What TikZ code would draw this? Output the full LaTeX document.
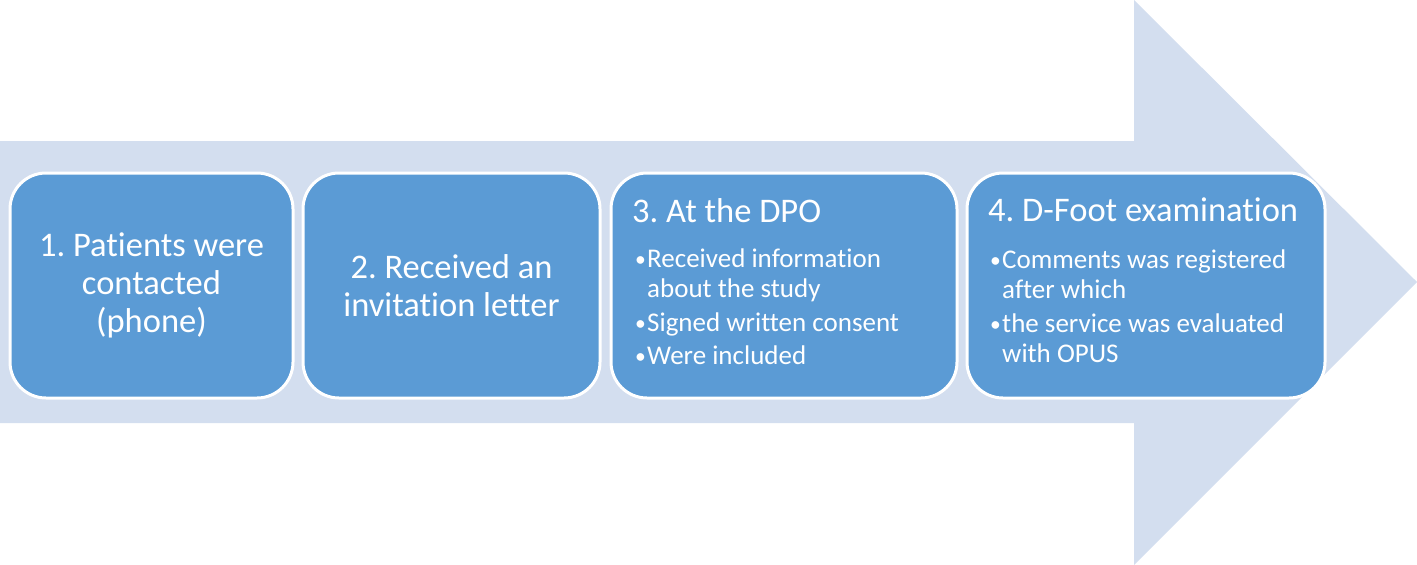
\documentclass[tikz,border=0pt]{standalone}
\usepackage{fontspec}
\setmainfont[Ligatures={NoCommon}]{Carlito}
\definecolor{arrowfill}{HTML}{D3DEEF}
\definecolor{boxfill}{HTML}{5B9BD5}
\newcommand{\bul}{\makebox[12pt][l]{\raisebox{1pt}{\scalebox{0.8}{•}}}}
\newcommand{\ind}{\hspace*{12pt}}
\frenchspacing
\begin{document}
\begin{tikzpicture}[x=1pt,y=-1pt,
  stepbox/.style={draw=white, line width=3pt, fill=boxfill, rounded corners=36pt},
  bigtext/.style={text=white, font=\fontsize{34.5}{38}\selectfont, align=center},
  listtext/.style={text=white, font=\fontsize{27}{30}\selectfont, align=left, inner sep=0pt, anchor=north west},
  titletext/.style={text=white, font=\fontsize{34.5}{38}\selectfont, inner sep=0pt, anchor=north west}]
\useasboundingbox (0,0) rectangle (1417,565);
\fill[arrowfill] (0,141) -- (1134,141) -- (1134,0) -- (1417,282) -- (1134,565) -- (1134,423) -- (0,423) -- cycle;
\draw[stepbox] (10,173) rectangle (293,398);
\draw[stepbox] (303,173) rectangle (600,398);
\draw[stepbox] (611,173) rectangle (957,398);
\draw[stepbox] (967,173) rectangle (1325,398);
\coordinate (b1) at (151.5,285.5);
\coordinate (b2) at (451.5,285.5);
\node[bigtext] (t1) at (b1) {1. Patients were\\contacted\\(phone)};
\node[bigtext] (t2) at (b2) {2. Received an\\invitation letter};
\node[titletext] (h3) at (632,198) {3. At the DPO};
\node[listtext] (l3) at (635,249) {\bul Received information\\\ind about the study\\[4pt]\bul Signed written consent\\[3pt]\bul Were included};
\node[titletext] (h4) at (988,198) {4. D-Foot examination};
\node[listtext] (l4) at (990,250) {\bul Comments was registered\\\ind after which\\[4pt]\bul the service was evaluated\\\ind with OPUS};
\end{tikzpicture}
\end{document}
